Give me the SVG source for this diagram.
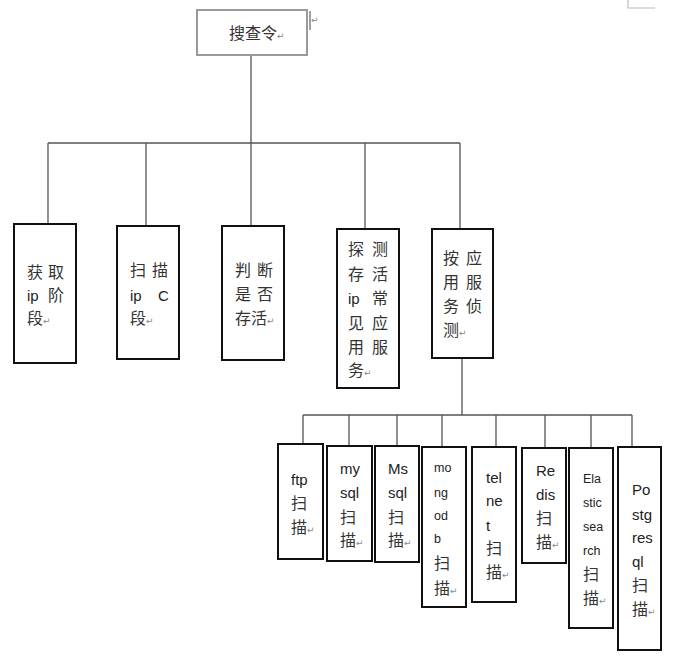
<svg xmlns="http://www.w3.org/2000/svg" width="692" height="660" viewBox="0 0 692 660">
<style>
.bx{fill:#fff;stroke:#111;stroke-width:2}
.top{fill:#fff;stroke:#9a9a9a;stroke-width:2}
.ln{stroke:#555;stroke-width:1.3;fill:none}
.zh{font-family:"Noto Sans CJK SC","Liberation Sans",sans-serif;font-size:16px;fill:#333}
.en{font-family:"Liberation Sans","Noto Sans CJK SC",sans-serif;font-size:15px;fill:#222}
.sm{font-family:"Liberation Sans",sans-serif;font-size:12.5px;fill:#222}
.pm{font-family:"DejaVu Sans",sans-serif;font-size:9px;fill:#888}
</style>
<rect width="692" height="660" fill="#fff"/>
<path d="M628 0V8H655" stroke="#bbb" stroke-width="1.2" fill="none"/>
<g id="connectors">
<path class="ln" d="M251 55V226M48 143H460M48 143V224M146 143V226M365 143V229M460 143V229"/>
<path class="ln" d="M462 358V415M303 415H632M303 415V444M349 415V446M397 415V446M442 415V447M496 415V447M545 415V448M591 415V448M632 415V447"/>
</g>
<g id="n0">
<rect class="top" x="197" y="10" width="110" height="45"/>
<text class="zh" x="229" y="39">搜查令<tspan class="pm">↵</tspan></text>
<path d="M310 11V30" stroke="#444" stroke-width="1"/>
<text class="pm" x="311" y="23">↵</text>
</g>
<g id="n1">
<rect class="bx" x="14" y="224" width="62" height="139"/>
<text class="zh" x="27" y="278">获</text><text class="zh" x="48" y="278">取</text>
<text class="en" x="27" y="301">ip</text><text class="zh" x="48" y="301">阶</text>
<text class="zh" x="27" y="324">段<tspan class="pm">↵</tspan></text>
</g>
<g id="n2">
<rect class="bx" x="117" y="226" width="62" height="133"/>
<text class="zh" x="130" y="276">扫</text><text class="zh" x="152" y="276">描</text>
<text class="en" x="130" y="301">ip</text><text class="en" x="158" y="301">C</text>
<text class="zh" x="130" y="324">段<tspan class="pm">↵</tspan></text>
</g>
<g id="n3">
<rect class="bx" x="222" y="226" width="62" height="134"/>
<text class="zh" x="235" y="276">判</text><text class="zh" x="257" y="276">断</text>
<text class="zh" x="235" y="300">是</text><text class="zh" x="257" y="300">否</text>
<text class="zh" x="235" y="324">存活<tspan class="pm">↵</tspan></text>
</g>
<g id="n4">
<rect class="bx" x="337" y="229" width="62" height="159"/>
<text class="zh" x="348" y="255">探</text><text class="zh" x="372" y="255">测</text>
<text class="zh" x="348" y="280">存</text><text class="zh" x="372" y="280">活</text>
<text class="en" x="348" y="304">ip</text><text class="zh" x="372" y="304">常</text>
<text class="zh" x="348" y="329">见</text><text class="zh" x="372" y="329">应</text>
<text class="zh" x="348" y="353">用</text><text class="zh" x="372" y="353">服</text>
<text class="zh" x="348" y="376">务<tspan class="pm">↵</tspan></text>
</g>
<g id="n5">
<rect class="bx" x="432" y="229" width="61" height="129"/>
<text class="zh" x="443" y="264">按</text><text class="zh" x="466" y="264">应</text>
<text class="zh" x="443" y="288">用</text><text class="zh" x="466" y="288">服</text>
<text class="zh" x="443" y="312">务</text><text class="zh" x="466" y="312">侦</text>
<text class="zh" x="443" y="336">测<tspan class="pm">↵</tspan></text>
</g>
<g id="ftp">
<rect class="bx" x="278" y="444" width="45" height="115"/>
<text class="en" x="291" y="485">ftp</text>
<text class="zh" x="291" y="509">扫</text>
<text class="zh" x="291" y="533">描<tspan class="pm">↵</tspan></text>
</g>
<g id="mysql">
<rect class="bx" x="327" y="446" width="45" height="115"/>
<text class="en" x="340" y="474">my</text>
<text class="en" x="340" y="498">sql</text>
<text class="zh" x="340" y="523">扫</text>
<text class="zh" x="340" y="546">描<tspan class="pm">↵</tspan></text>
</g>
<g id="mssql">
<rect class="bx" x="375" y="446" width="44" height="116"/>
<text class="en" x="388" y="474">Ms</text>
<text class="en" x="388" y="498">sql</text>
<text class="zh" x="388" y="523">扫</text>
<text class="zh" x="388" y="546">描<tspan class="pm">↵</tspan></text>
</g>
<g id="mongodb">
<rect class="bx" x="422" y="447" width="44" height="160"/>
<text class="sm" x="434" y="472">mo</text>
<text class="sm" x="434" y="497">ng</text>
<text class="sm" x="434" y="520">od</text>
<text class="sm" x="434" y="543">b</text>
<text class="zh" x="434" y="569">扫</text>
<text class="zh" x="434" y="594">描<tspan class="pm">↵</tspan></text>
</g>
<g id="telnet">
<rect class="bx" x="472" y="447" width="44" height="155"/>
<text class="en" x="486" y="483">tel</text>
<text class="en" x="486" y="506">ne</text>
<text class="en" x="486" y="531">t</text>
<text class="zh" x="486" y="554">扫</text>
<text class="zh" x="486" y="578">描<tspan class="pm">↵</tspan></text>
</g>
<g id="redis">
<rect class="bx" x="522" y="448" width="44" height="115"/>
<text class="en" x="536" y="476">Re</text>
<text class="en" x="536" y="500">dis</text>
<text class="zh" x="536" y="524">扫</text>
<text class="zh" x="536" y="548">描<tspan class="pm">↵</tspan></text>
</g>
<g id="elasticsearch">
<rect class="bx" x="569" y="448" width="44" height="180"/>
<text class="sm" x="583" y="483">Ela</text>
<text class="sm" x="583" y="507">stic</text>
<text class="sm" x="583" y="531">sea</text>
<text class="sm" x="583" y="555">rch</text>
<text class="zh" x="583" y="580">扫</text>
<text class="zh" x="583" y="604">描<tspan class="pm">↵</tspan></text>
</g>
<g id="postgresql">
<rect class="bx" x="618" y="447" width="43" height="203"/>
<text class="en" x="632" y="495">Po</text>
<text class="en" x="632" y="520">stg</text>
<text class="en" x="632" y="543">res</text>
<text class="en" x="632" y="567">ql</text>
<text class="zh" x="632" y="591">扫</text>
<text class="zh" x="632" y="615">描<tspan class="pm">↵</tspan></text>
</g>
</svg>
